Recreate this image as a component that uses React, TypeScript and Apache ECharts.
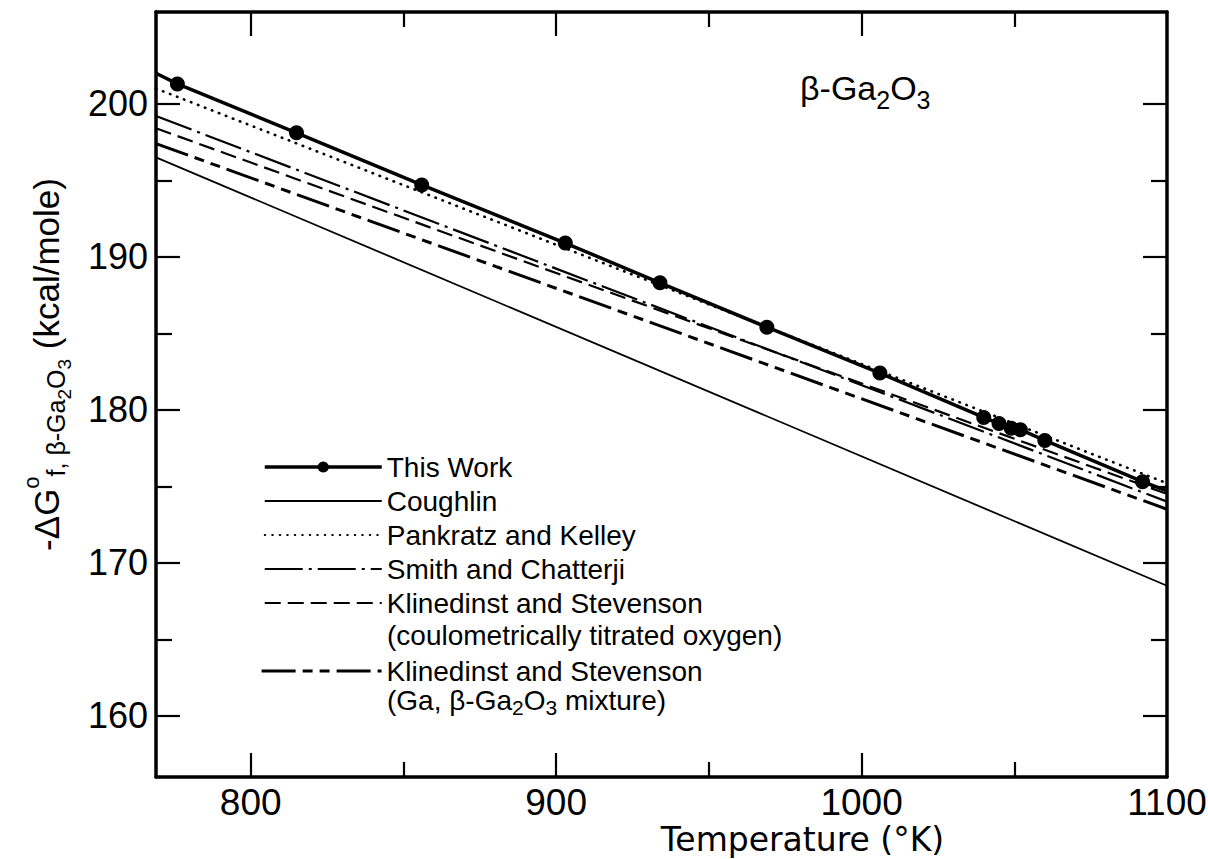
import React, { useEffect, useRef } from "react";
import * as echarts from "echarts";

// ---- data ----
const T_EDGE = [769, 1100];
const thisWorkDotT = [776, 815, 856, 903, 934, 969, 1006, 1040, 1045, 1049, 1052, 1060, 1092];
const thisWorkDotV = [201.3, 198.1, 194.7, 190.9, 188.3, 185.4, 182.4, 179.5, 179.1, 178.8, 178.7, 178.0, 175.3];
const thisWorkLineV = [202.0, 174.7];
const coughlinV = [196.5, 168.5];
const pankratzV = [201.0, 175.2];
const smithV = [199.2, 174.0];
const klinCoulV = [198.4, 174.5];
const klinGaV = [197.4, 173.5];

const xMajor = [800, 900, 1000, 1100];
const xMinor = [850, 950, 1050];
const yMajor = [160, 170, 180, 190, 200];
const yMinor = [165, 175, 185, 195];
const X_MIN = 769, X_MAX = 1100, Y_MIN = 156, Y_MAX = 206;

const N_THIS = "This Work";
const N_COUGH = "Coughlin";
const N_PANK = "Pankratz and Kelley";
const N_SMITH = "Smith and Chatterji";
const N_KCOUL = "Klinedinst and Stevenson (coulometrically titrated oxygen)";
const N_KGA = "Klinedinst and Stevenson (Ga, β-Ga2O3 mixture)";

const FONT = "'Liberation Sans', Arial, sans-serif";
const WIDE = "'DejaVu Sans', 'Liberation Sans', sans-serif";

const pair = (v: number[]) => T_EDGE.map((t, i) => [t, v[i]]);

export default function App() {
  const ref = useRef<HTMLDivElement>(null);
  useEffect(() => {
    document.body.style.margin = "0";
    const chart = echarts.init(ref.current!, null, { renderer: "svg" });
    const black = "#000";
    const base = (min: number, max: number, gridIndex: number, position: string) => ({
      type: "value", min, max, gridIndex, position,
      splitLine: { show: false },
      axisLine: { show: false },
      axisTick: { show: false },
      axisLabel: { show: false },
    });
    const majLine = { show: true, onZero: false, lineStyle: { color: black, width: 3.5 } };
    const tick = (vals: number[], len: number) => ({
      show: true, inside: true, length: len, customValues: vals,
      lineStyle: { color: black, width: 2.2 },
    });
    const plain = (v: number) => String(v);

    const thisWorkData: any[] = [
      { value: [T_EDGE[0], thisWorkLineV[0]], symbol: "none" },
      ...thisWorkDotT.map((t, i) => [t, thisWorkDotV[i]]),
      { value: [T_EDGE[1], thisWorkLineV[1]], symbol: "none" },
    ];

    const legendText = {
      fontFamily: FONT, fontSize: 28, color: black, lineHeight: 34, padding: [0, 0, 0, 0],
    };
    const noSym = { opacity: 0 };

    chart.setOption({
      animation: false,
      backgroundColor: "#fff",
      color: [black],
      grid: [
        { left: 156, right: 41, top: 12, bottom: 82, containLabel: false, outerBoundsMode: "none" },
        { left: 156, right: 41, top: 12, bottom: 82, containLabel: false, outerBoundsMode: "none" },
      ],
      xAxis: [
        {
          ...base(X_MIN, X_MAX, 0, "bottom"),
          axisLine: majLine,
          axisTick: tick(xMajor, 24),
          axisLabel: { show: true, customValues: xMajor, formatter: plain, margin: 8, fontSize: 37, lineHeight: 34, fontFamily: FONT, color: black },
          name: "Temperature (°K)",
          nameLocation: "middle",
          nameGap: 45,
          nameMoveOverlap: false,
          nameTextStyle: { fontFamily: WIDE, fontSize: 33, lineHeight: 34, color: black, padding: [0, 0, 0, 282] },
        },
        { ...base(X_MIN, X_MAX, 0, "top"), axisLine: majLine, axisTick: tick([800, 900, 1000], 24) },
        { ...base(X_MIN, X_MAX, 1, "bottom"), axisTick: tick(xMinor, 15) },
        { ...base(X_MIN, X_MAX, 1, "top"), axisTick: tick(xMinor, 15) },
      ],
      yAxis: [
        {
          ...base(Y_MIN, Y_MAX, 0, "left"),
          axisLine: majLine,
          axisTick: tick(yMajor, 24),
          axisLabel: { show: true, customValues: yMajor, formatter: plain, margin: 8, fontSize: 36, fontFamily: FONT, color: black },
          name: "{m|-ΔG}{sup|o}{sub|f, β-Ga}{ss|2}{sub|O}{ss|3}{m| (kcal/mole)}",
          nameLocation: "middle",
          nameRotate: 90,
          nameGap: 80,
          nameMoveOverlap: false,
          nameTextStyle: {
            color: black,
            fontFamily: FONT,
            padding: [0, 0, 0, 60],
            rich: {
              m: { fontSize: 35, lineHeight: 60, verticalAlign: "middle", fontFamily: FONT, color: black },
              sup: { fontSize: 22, lineHeight: 22, verticalAlign: "top", padding: [4, 0, 0, 0], fontFamily: FONT, color: black },
              sub: { fontSize: 25, lineHeight: 25, verticalAlign: "bottom", padding: [0, 0, 8, 0], fontFamily: FONT, color: black },
              ss: { fontSize: 19, lineHeight: 19, verticalAlign: "bottom", padding: [0, 0, 2, 0], fontFamily: FONT, color: black },
            },
          },
        },
        { ...base(Y_MIN, Y_MAX, 0, "right"), axisLine: majLine, axisTick: tick(yMajor, 24) },
        { ...base(Y_MIN, Y_MAX, 1, "left"), axisTick: tick(yMinor, 16) },
        { ...base(Y_MIN, Y_MAX, 1, "right"), axisTick: tick(yMinor, 16) },
      ],
      legend: [
        {
          data: [
            { name: N_THIS, lineStyle: { width: 3.5 } },
            { name: N_COUGH, itemStyle: noSym, lineStyle: { width: 2 } },
            { name: N_PANK, itemStyle: noSym },
            { name: N_SMITH, itemStyle: noSym },
            { name: N_KCOUL, itemStyle: noSym },
          ],
          orient: "vertical", left: 258, top: 445, itemGap: 0,
          itemWidth: 117, itemHeight: 14, selectedMode: false,
          formatter: (n: string) => (n.startsWith("Klinedinst") ? "Klinedinst and Stevenson" : n),
          textStyle: legendText,
        },
        {
          data: [{ name: N_KGA, itemStyle: noSym, lineStyle: { width: 3.2 } }],
          orient: "vertical", left: 255, top: 649, itemGap: 0,
          itemWidth: 120, itemHeight: 14, selectedMode: false,
          formatter: () => "Klinedinst and Stevenson",
          textStyle: legendText,
        },
      ],
      graphic: [
        {
          type: "text", x: 800, y: 64, z: 10,
          style: {
            text: "{m|β-Ga}{s|2}{m|O}{s|3}",
            rich: {
              m: { fontSize: 34, lineHeight: 48, verticalAlign: "middle", fontFamily: FONT, fill: black },
              s: { fontSize: 25, lineHeight: 25, verticalAlign: "bottom", fontFamily: FONT, fill: black },
            },
          },
        },
        {
          type: "text", x: 387, y: 635, z: 10,
          style: { text: "(coulometrically titrated oxygen)", fontSize: 28, fontFamily: FONT, fill: black, verticalAlign: "middle" },
        },
        {
          type: "text", x: 387, y: 682, z: 10,
          style: {
            text: "{m|(Ga, β-Ga}{s|2}{m|O}{s|3}{m| mixture)}",
            rich: {
              m: { fontSize: 28, lineHeight: 36, verticalAlign: "middle", fontFamily: FONT, fill: black },
              s: { fontSize: 21, lineHeight: 21, verticalAlign: "bottom", fontFamily: FONT, fill: black },
            },
          },
        },
      ],
      series: [
        {
          name: N_THIS, type: "line", data: thisWorkData, symbol: "circle", symbolSize: 15,
          color: black, lineStyle: { color: black, width: 3.5 }, itemStyle: { color: black }, z: 6,
        },
        { name: N_COUGH, type: "line", color: black, data: pair(coughlinV), symbol: "none", lineStyle: { color: black, width: 1.8 } },
        {
          name: N_PANK, type: "line", color: black, data: pair(pankratzV), symbol: "none",
          lineStyle: { color: black, width: 2.6, type: [0.5, 7], cap: "round" },
        },
        {
          name: N_SMITH, type: "line", color: black, data: pair(smithV), symbol: "none",
          lineStyle: { color: black, width: 2.2, type: [38, 6, 3, 6] },
        },
        {
          name: N_KCOUL, type: "line", color: black, data: pair(klinCoulV), symbol: "none",
          lineStyle: { color: black, width: 2.2, type: [16, 7] },
        },
        {
          name: N_KGA, type: "line", color: black, data: pair(klinGaV), symbol: "none",
          lineStyle: { color: black, width: 3, type: [34, 7, 10, 7, 10, 7] },
        },
      ],
    });
    return () => chart.dispose();
  }, []);
  return <div ref={ref} style={{ width: 1208, height: 859 }} />;
}
